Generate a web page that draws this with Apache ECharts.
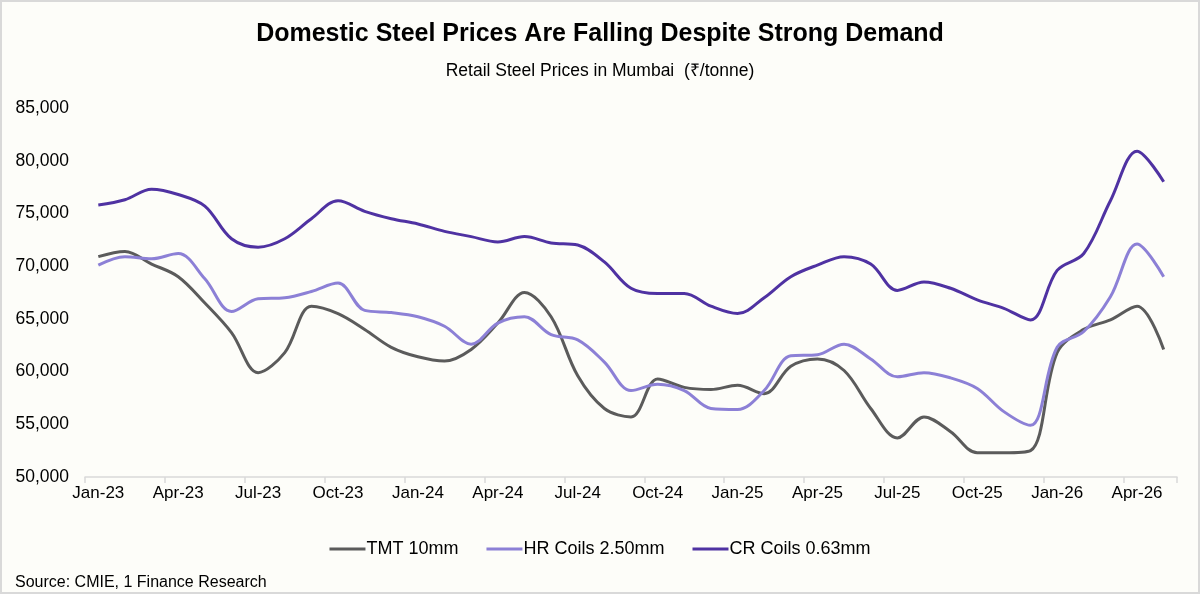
<!DOCTYPE html>
<html>
<head>
<meta charset="utf-8">
<script src="https://cdn.jsdelivr.net/npm/echarts@6/dist/echarts.min.js"></script>
<style>
  html, body { margin: 0; padding: 0; background: #fdfdf9; }
  #content { width: 1200px; height: 594px; box-sizing: border-box; border: 2px solid #d9d9d9; }
</style>
</head>
<body>
<div id="content"></div>
<script>
!(function(window) {
    var element = document.getElementById('content');
    var myChart = echarts.init(element);

    // monthly, Jan-23 .. May-26
    var months = [
        'Jan-23', 'Feb-23', 'Mar-23', 'Apr-23', 'May-23', 'Jun-23', 'Jul-23', 'Aug-23', 'Sep-23', 'Oct-23', 'Nov-23', 'Dec-23',
        'Jan-24', 'Feb-24', 'Mar-24', 'Apr-24', 'May-24', 'Jun-24', 'Jul-24', 'Aug-24', 'Sep-24', 'Oct-24', 'Nov-24', 'Dec-24',
        'Jan-25', 'Feb-25', 'Mar-25', 'Apr-25', 'May-25', 'Jun-25', 'Jul-25', 'Aug-25', 'Sep-25', 'Oct-25', 'Nov-25', 'Dec-25',
        'Jan-26', 'Feb-26', 'Mar-26', 'Apr-26', 'May-26'
    ];

    var tmt = [
        70900, 71400, 70200, 69000, 66500, 63700, 59900, 61800, 66200, 65500, 64000, 62300,
        61400, 61000, 62100, 64600, 67500, 65200, 59600, 56500, 55700, 59300, 58500, 58300,
        58700, 57900, 60500, 61200, 60100, 56500, 53700, 55700, 54300, 52300, 52300, 52500,
        61800, 64000, 64900, 66200, 62100
    ];

    var hrCoils = [
        70100, 70900, 70700, 71200, 68800, 65700, 66900, 67000, 67600, 68400, 65800, 65600,
        65200, 64300, 62600, 64600, 65200, 63500, 63000, 60900, 58200, 58800, 58200, 56500,
        56400, 58200, 61500, 61600, 62600, 61200, 59500, 59900, 59400, 58400, 56200, 54900,
        62300, 63800, 67100, 72100, 69000
    ];

    var crCoils = [
        75800, 76300, 77300, 76800, 75700, 72600, 71800, 72600, 74500, 76200, 75200, 74500,
        74000, 73300, 72800, 72300, 72800, 72200, 72000, 70400, 67900, 67400, 67400, 66200,
        65500, 67000, 69000, 70100, 70900, 70200, 67700, 68500, 67900, 66800, 66000, 64900,
        69600, 71200, 76200, 80900, 78000
    ];

    var yTicks = [50000, 55000, 60000, 65000, 70000, 75000, 80000, 85000];

    var font = 'Liberation Sans, Arial, sans-serif';

    var option = {
        backgroundColor: '#fdfdf9',
        textStyle: { fontFamily: font },
        title: [{
            text: 'Domestic Steel Prices Are Falling Despite Strong Demand',
            left: 'center',
            top: 15,
            textStyle: { fontSize: 25, fontWeight: 'bold', color: '#000' }
        }, {
            text: 'Retail Steel Prices in Mumbai  (₹/tonne)',
            left: 'center',
            top: 55,
            textStyle: { fontSize: 17.5, fontWeight: 'normal', color: '#000' }
        }, {
            text: 'Source: CMIE, 1 Finance Research',
            left: 8,
            top: 568,
            textStyle: { fontSize: 16, fontWeight: 'normal', color: '#000' }
        }],
        legend: {
            bottom: 29,
            left: 'center',
            itemWidth: 36,
            itemHeight: 3,
            itemGap: 28,
            icon: 'rect',
            textStyle: { fontSize: 18, color: '#000', padding: [0, 0, 0, -4] },
            data: ['TMT 10mm', 'HR Coils 2.50mm', 'CR Coils 0.63mm']
        },
        grid: {
            left: 83,
            right: 21,
            top: 106,
            bottom: 115,
            containLabel: false
        },
        xAxis: {
            type: 'category',
            boundaryGap: true,
            data: months,
            axisLine: { lineStyle: { color: '#d9d9d9', width: 1.5 } },
            axisTick: { show: true, length: 6, interval: 2, lineStyle: { color: '#d9d9d9', width: 1.5 } },
            axisLabel: { interval: 2, color: '#000', fontSize: 17, margin: 8 }
        },
        yAxis: {
            type: 'value',
            min: yTicks[0],
            max: yTicks[yTicks.length - 1],
            interval: 5000,
            axisLine: { show: false },
            axisTick: { show: false },
            splitLine: { show: false },
            axisLabel: {
                color: '#000',
                fontSize: 17.5,
                margin: 16,
                formatter: function(v) { return v.toLocaleString('en-US'); }
            }
        },
        series: [{
            name: 'TMT 10mm',
            type: 'line',
            smooth: 0.35,
            symbol: 'none',
            data: tmt,
            itemStyle: { color: '#5b5b5b' },
            lineStyle: { color: '#5b5b5b', width: 3 }
        }, {
            name: 'HR Coils 2.50mm',
            type: 'line',
            smooth: 0.35,
            symbol: 'none',
            data: hrCoils,
            itemStyle: { color: '#8c80d6' },
            lineStyle: { color: '#8c80d6', width: 3 }
        }, {
            name: 'CR Coils 0.63mm',
            type: 'line',
            smooth: 0.35,
            symbol: 'none',
            data: crCoils,
            itemStyle: { color: '#4f32a2' },
            lineStyle: { color: '#4f32a2', width: 3 }
        }]
    };
    myChart.setOption(option);
})(window);
</script>
</body>
</html>
